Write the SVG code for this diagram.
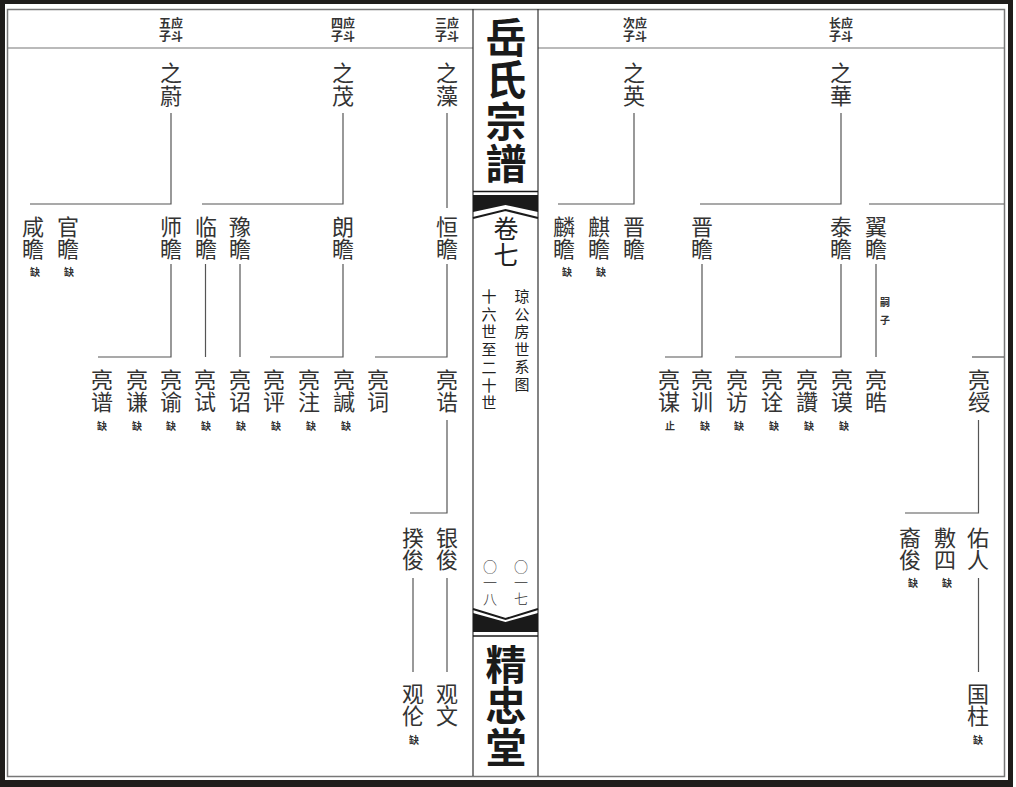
<svg xmlns="http://www.w3.org/2000/svg" width="1016" height="787" viewBox="0 0 1016 787">
<style>
.n{font-family:"Noto Sans CJK SC","Noto Sans CJK TC",sans-serif;font-size:22px;fill:#333;text-anchor:middle}
.q{font-family:"Noto Sans CJK SC",sans-serif;font-size:10px;font-weight:bold;fill:#333;text-anchor:middle}
.h{font-family:"Noto Sans CJK SC",sans-serif;font-size:12px;font-weight:bold;fill:#333;text-anchor:middle}
.t{font-family:"Noto Sans CJK SC",sans-serif;font-size:41px;font-weight:700;fill:#1a1a1a;text-anchor:middle}
.s{font-family:"Noto Sans CJK SC",sans-serif;font-size:15px;fill:#222;text-anchor:middle}
.p{font-family:"Noto Sans CJK SC",sans-serif;font-size:14px;font-weight:300;fill:#333;text-anchor:middle}
.c path{fill:none;stroke:#555;stroke-width:1.2}
</style>
<rect width="1016" height="787" fill="#fff"/>
<g id="frame">
<path d="M0 0H1013V787H0Z M5 4V780H1008V4Z" fill="#1f1d1b" fill-rule="evenodd"/>
<rect x="7.5" y="9.5" width="997" height="767" fill="none" stroke="#777" stroke-width="1.5"/>
<path d="M8 48H473 M538 48H1004" stroke="#777" stroke-width="1.2" fill="none"/>
<path d="M473 9V776 M538 9V776" stroke="#333" stroke-width="1.2" fill="none"/>
</g>
<g id="spine">
<text class="t" x="506" y="53">岳<tspan x="506" dy="41.5">氏</tspan><tspan x="506" dy="42">宗</tspan><tspan x="506" dy="42">譜</tspan></text>
<path d="M473 191.5H538" stroke="#1a1a1a" stroke-width="1.5"/>
<path d="M473 195H538V212L505.5 205L473 212Z" fill="#1a1a1a"/>
<path d="M473 218L505.5 210L538 218" stroke="#1a1a1a" stroke-width="2" fill="none"/>
<text class="n" x="506" y="238" style="font-size:25px;fill:#222">卷<tspan x="506" dy="26">七</tspan></text>
<text class="s" x="489" y="302">十<tspan x="489" dy="17.7">六</tspan><tspan x="489" dy="17.7">世</tspan><tspan x="489" dy="17.7">至</tspan><tspan x="489" dy="17.7">二</tspan><tspan x="489" dy="17.7">十</tspan><tspan x="489" dy="17.7">世</tspan></text>
<text class="s" x="522" y="302">琼<tspan x="522" dy="17.6">公</tspan><tspan x="522" dy="17.6">房</tspan><tspan x="522" dy="17.6">世</tspan><tspan x="522" dy="17.6">系</tspan><tspan x="522" dy="17.6">图</tspan></text>
<text class="p" x="490" y="572">○<tspan x="490" dy="16">一</tspan><tspan x="490" dy="16">八</tspan></text>
<text class="p" x="521" y="572">○<tspan x="521" dy="16">一</tspan><tspan x="521" dy="16">七</tspan></text>
<path d="M473 609L505.5 619L538 609" stroke="#1a1a1a" stroke-width="2" fill="none"/>
<path d="M473 613L505.5 622L538 613V632H473Z" fill="#1a1a1a"/>
<path d="M473 636H538" stroke="#1a1a1a" stroke-width="1.5"/>
<text class="t" x="506" y="679.5">精<tspan x="506" dy="41.5">忠</tspan><tspan x="506" dy="41.5">堂</tspan></text>
</g>
<g id="headers">
<text class="h" x="171" y="28">五应<tspan x="171" dy="12.5">子斗</tspan></text>
<text class="h" x="343" y="28">四应<tspan x="343" dy="12.5">子斗</tspan></text>
<text class="h" x="447" y="28">三应<tspan x="447" dy="12.5">子斗</tspan></text>
<text class="h" x="635" y="28">次应<tspan x="635" dy="12.5">子斗</tspan></text>
<text class="h" x="841" y="28">长应<tspan x="841" dy="12.5">子斗</tspan></text>
</g>
<g class="c" id="connectors">
<path d="M171 113V204H30"/>
<path d="M343 113V204H202"/>
<path d="M447 113V208"/>
<path d="M171 264V357H98"/>
<path d="M205.5 264V357"/>
<path d="M240 264V357"/>
<path d="M343 264V357H270"/>
<path d="M447 264V357H375"/>
<path d="M447 420V513H410"/>
<path d="M413 578V672"/>
<path d="M447 578V672"/>
<path d="M634 113V204H558"/>
<path d="M841 113V204H700"/>
<path d="M869 204H1004"/>
<path d="M702 264V357H665"/>
<path d="M841 264V357H735"/>
<path d="M876 264V357"/>
<path d="M972 357H1004"/>
<path d="M978.5 420V513H905"/>
<path d="M978.5 578V672"/>
</g>
<g id="n-zhiwei"><text class="n" x="171" y="81">之<tspan x="171" dy="22.5">蔚</tspan></text></g>
<g id="n-zhimao"><text class="n" x="343" y="81">之<tspan x="343" dy="22.5">茂</tspan></text></g>
<g id="n-zhizao"><text class="n" x="447" y="81">之<tspan x="447" dy="22.5">藻</tspan></text></g>
<g id="n-zhiying"><text class="n" x="634" y="81">之<tspan x="634" dy="22.5">英</tspan></text></g>
<g id="n-zhihua"><text class="n" x="841" y="81">之<tspan x="841" dy="22.5">華</tspan></text></g>
<g id="n-xianzhan"><text class="n" x="33" y="234.5">咸<tspan x="33" dy="22.5">瞻</tspan></text><text class="q" x="35" y="276">缺</text></g>
<g id="n-guanzhan"><text class="n" x="68" y="234.5">官<tspan x="68" dy="22.5">瞻</tspan></text><text class="q" x="69" y="276">缺</text></g>
<g id="n-shizhan"><text class="n" x="171" y="234.5">师<tspan x="171" dy="22.5">瞻</tspan></text></g>
<g id="n-linzhan"><text class="n" x="206" y="234.5">临<tspan x="206" dy="22.5">瞻</tspan></text></g>
<g id="n-yuzhan"><text class="n" x="240" y="234.5">豫<tspan x="240" dy="22.5">瞻</tspan></text></g>
<g id="n-langzhan"><text class="n" x="343" y="234.5">朗<tspan x="343" dy="22.5">瞻</tspan></text></g>
<g id="n-hengzhan"><text class="n" x="447" y="234.5">恒<tspan x="447" dy="22.5">瞻</tspan></text></g>
<g id="n-linzhan2"><text class="n" x="564" y="234.5">麟<tspan x="564" dy="22.5">瞻</tspan></text><text class="q" x="567" y="276">缺</text></g>
<g id="n-qizhan"><text class="n" x="599" y="234.5">麒<tspan x="599" dy="22.5">瞻</tspan></text><text class="q" x="601" y="276">缺</text></g>
<g id="n-jinzhan1"><text class="n" x="634" y="234.5">晋<tspan x="634" dy="22.5">瞻</tspan></text></g>
<g id="n-jinzhan2"><text class="n" x="702" y="234.5">晋<tspan x="702" dy="22.5">瞻</tspan></text></g>
<g id="n-taizhan"><text class="n" x="841" y="234.5">泰<tspan x="841" dy="22.5">瞻</tspan></text></g>
<g id="n-yizhan"><text class="n" x="876" y="234.5">翼<tspan x="876" dy="22.5">瞻</tspan></text><text class="q" x="885" y="306">嗣<tspan x="885" dy="18">子</tspan></text></g>
<g id="n-liangpu"><text class="n" x="102" y="387.5">亮<tspan x="102" dy="22.5">谱</tspan></text><text class="q" x="102" y="430">缺</text></g>
<g id="n-liangqian"><text class="n" x="137" y="387.5">亮<tspan x="137" dy="22.5">谦</tspan></text><text class="q" x="137" y="430">缺</text></g>
<g id="n-liangyu"><text class="n" x="171" y="387.5">亮<tspan x="171" dy="22.5">谕</tspan></text><text class="q" x="171" y="430">缺</text></g>
<g id="n-liangshi"><text class="n" x="205" y="387.5">亮<tspan x="205" dy="22.5">试</tspan></text><text class="q" x="206" y="430">缺</text></g>
<g id="n-liangzhao"><text class="n" x="240" y="387.5">亮<tspan x="240" dy="22.5">诏</tspan></text><text class="q" x="241" y="430">缺</text></g>
<g id="n-liangping"><text class="n" x="274" y="387.5">亮<tspan x="274" dy="22.5">评</tspan></text><text class="q" x="276" y="430">缺</text></g>
<g id="n-liangzhu"><text class="n" x="309" y="387.5">亮<tspan x="309" dy="22.5">注</tspan></text><text class="q" x="311" y="430">缺</text></g>
<g id="n-liangxian"><text class="n" x="344" y="387.5">亮<tspan x="344" dy="22.5">諴</tspan></text><text class="q" x="346" y="430">缺</text></g>
<g id="n-liangci"><text class="n" x="378" y="387.5">亮<tspan x="378" dy="22.5">词</tspan></text></g>
<g id="n-lianggao"><text class="n" x="447" y="387.5">亮<tspan x="447" dy="22.5">诰</tspan></text></g>
<g id="n-liangmou"><text class="n" x="669" y="387.5">亮<tspan x="669" dy="22.5">谋</tspan></text><text class="q" x="670" y="430">止</text></g>
<g id="n-liangxun"><text class="n" x="702" y="387.5">亮<tspan x="702" dy="22.5">训</tspan></text><text class="q" x="705" y="430">缺</text></g>
<g id="n-liangfang"><text class="n" x="737" y="387.5">亮<tspan x="737" dy="22.5">访</tspan></text><text class="q" x="739" y="430">缺</text></g>
<g id="n-liangquan"><text class="n" x="772" y="387.5">亮<tspan x="772" dy="22.5">诠</tspan></text><text class="q" x="774" y="430">缺</text></g>
<g id="n-liangzan"><text class="n" x="807" y="387.5">亮<tspan x="807" dy="22.5">讚</tspan></text><text class="q" x="809" y="430">缺</text></g>
<g id="n-liangmo"><text class="n" x="842" y="387.5">亮<tspan x="842" dy="22.5">谟</tspan></text><text class="q" x="844" y="430">缺</text></g>
<g id="n-lianghao"><text class="n" x="876" y="387.5">亮<tspan x="876" dy="22.5">晧</tspan></text></g>
<g id="n-liangshou"><text class="n" x="979" y="387.5">亮<tspan x="979" dy="22.5">绶</tspan></text></g>
<g id="n-kuijun"><text class="n" x="413" y="545.5">揆<tspan x="413" dy="22.5">俊</tspan></text></g>
<g id="n-yinjun"><text class="n" x="447" y="545.5">银<tspan x="447" dy="22.5">俊</tspan></text></g>
<g id="n-yijun"><text class="n" x="910" y="545.5">裔<tspan x="910" dy="22.5">俊</tspan></text><text class="q" x="913" y="587">缺</text></g>
<g id="n-fusi"><text class="n" x="945" y="545.5">敷<tspan x="945" dy="22.5">四</tspan></text><text class="q" x="947" y="587">缺</text></g>
<g id="n-youren"><text class="n" x="978" y="545.5">佑<tspan x="978" dy="22.5">人</tspan></text></g>
<g id="n-guanlun"><text class="n" x="413" y="701.5">观<tspan x="413" dy="22.5">伦</tspan></text><text class="q" x="414" y="744">缺</text></g>
<g id="n-guanwen"><text class="n" x="447" y="701.5">观<tspan x="447" dy="22.5">文</tspan></text></g>
<g id="n-guozhu"><text class="n" x="978" y="701.5">国<tspan x="978" dy="22.5">柱</tspan></text><text class="q" x="978" y="744">缺</text></g>
</svg>
